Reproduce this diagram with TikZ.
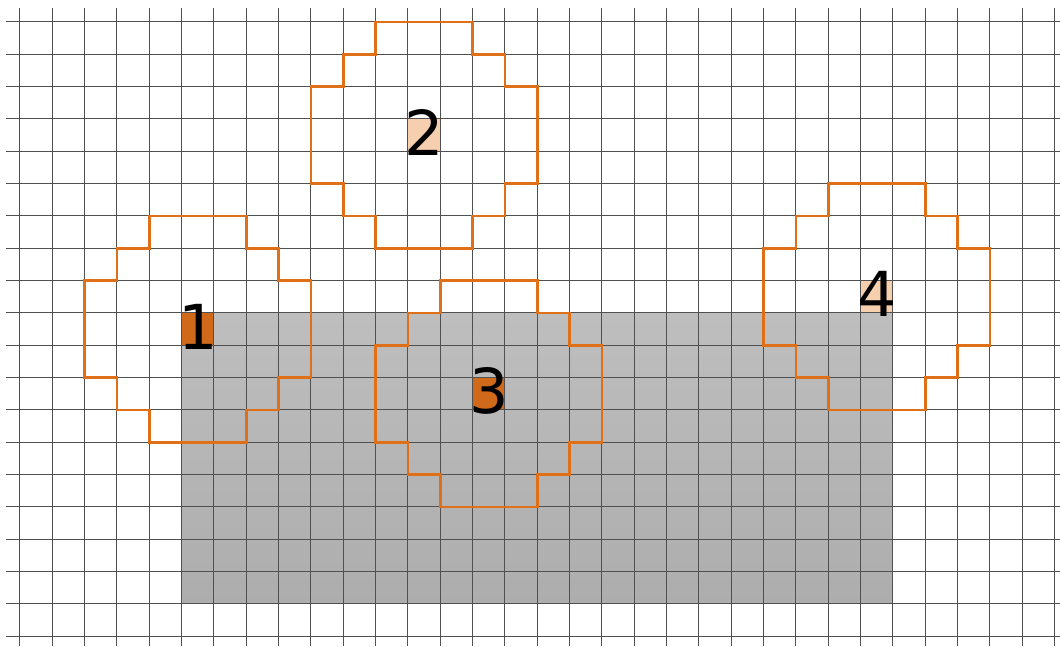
\documentclass[tikz,border=0pt]{standalone}
\usepackage{fontspec}
\setmainfont{DejaVu Sans}
\definecolor{gridc}{HTML}{505050}
\definecolor{orng}{HTML}{E07018}
\definecolor{darkcell}{HTML}{D06A1A}
\definecolor{lightcell}{HTML}{F5CFAE}
\definecolor{graytop}{HTML}{BEBEBE}
\definecolor{graybot}{HTML}{ADADAD}
\tikzset{
  gridline/.style={draw=gridc, line width=1pt},
  blobline/.style={draw=orng, line width=2.8pt, line join=miter},
  darkbox/.style={fill=darkcell},
  lightbox/.style={fill=lightcell},
  digit/.style={inner sep=0pt, font=\fontsize{62}{62}\selectfont, text=black}
}
\newcommand\stepblob{%
  \draw[blobline] (2,0) -- (5,0) -- (5,1) -- (6,1) -- (6,2) -- (7,2) -- (7,5) -- (6,5) -- (6,6) -- (5,6) -- (5,7) -- (2,7) -- (2,6) -- (1,6) -- (1,5) -- (0,5) -- (0,2) -- (1,2) -- (1,1) -- (2,1) -- cycle;}
\begin{document}
\begin{tikzpicture}[x=32.33pt, y=-32.33pt]
  % bounding box: 1060 x 646 px, grid origin at px (20,22)
  \useasboundingbox (-0.6186,-0.6805) rectangle (32.168,19.3014);
  \fill[white] (-0.6186,-0.6805) rectangle (32.168,19.3014);
  % gray region
  \shade[top color=graytop, bottom color=graybot] (5,9) rectangle (27,18);
  % highlighted cells
  \fill[darkbox] (5,9) rectangle (6,10);
  \fill[lightbox] (12,3) rectangle (13,4);
  \fill[darkbox] (14,11) rectangle (15,12);
  \fill[lightbox] (26,8) rectangle (27,9);
  % grid
  \foreach \j in {0,...,19} {
    \draw[gridline] (-0.433,\j) -- (32.168,\j);
  }
  \foreach \i in {0,...,32} {
    \draw[gridline] (\i,-0.433) -- (\i,19.3014);
  }
  % orange stepped outlines
  \begin{scope}[shift={(2,6)}]\stepblob\end{scope}
  \begin{scope}[shift={(9,0)}]\stepblob\end{scope}
  \begin{scope}[shift={(11,8)}]\stepblob\end{scope}
  \begin{scope}[shift={(23,5)}]\stepblob\end{scope}
  % labels
  \node[digit] (l1) at (5.5,9.42) {1};
  \node[digit] (l2) at (12.5,3.42) {2};
  \node[digit] (l3) at (14.5,11.42) {3};
  \node[digit] (l4) at (26.5,8.42) {4};
\end{tikzpicture}
\end{document}
